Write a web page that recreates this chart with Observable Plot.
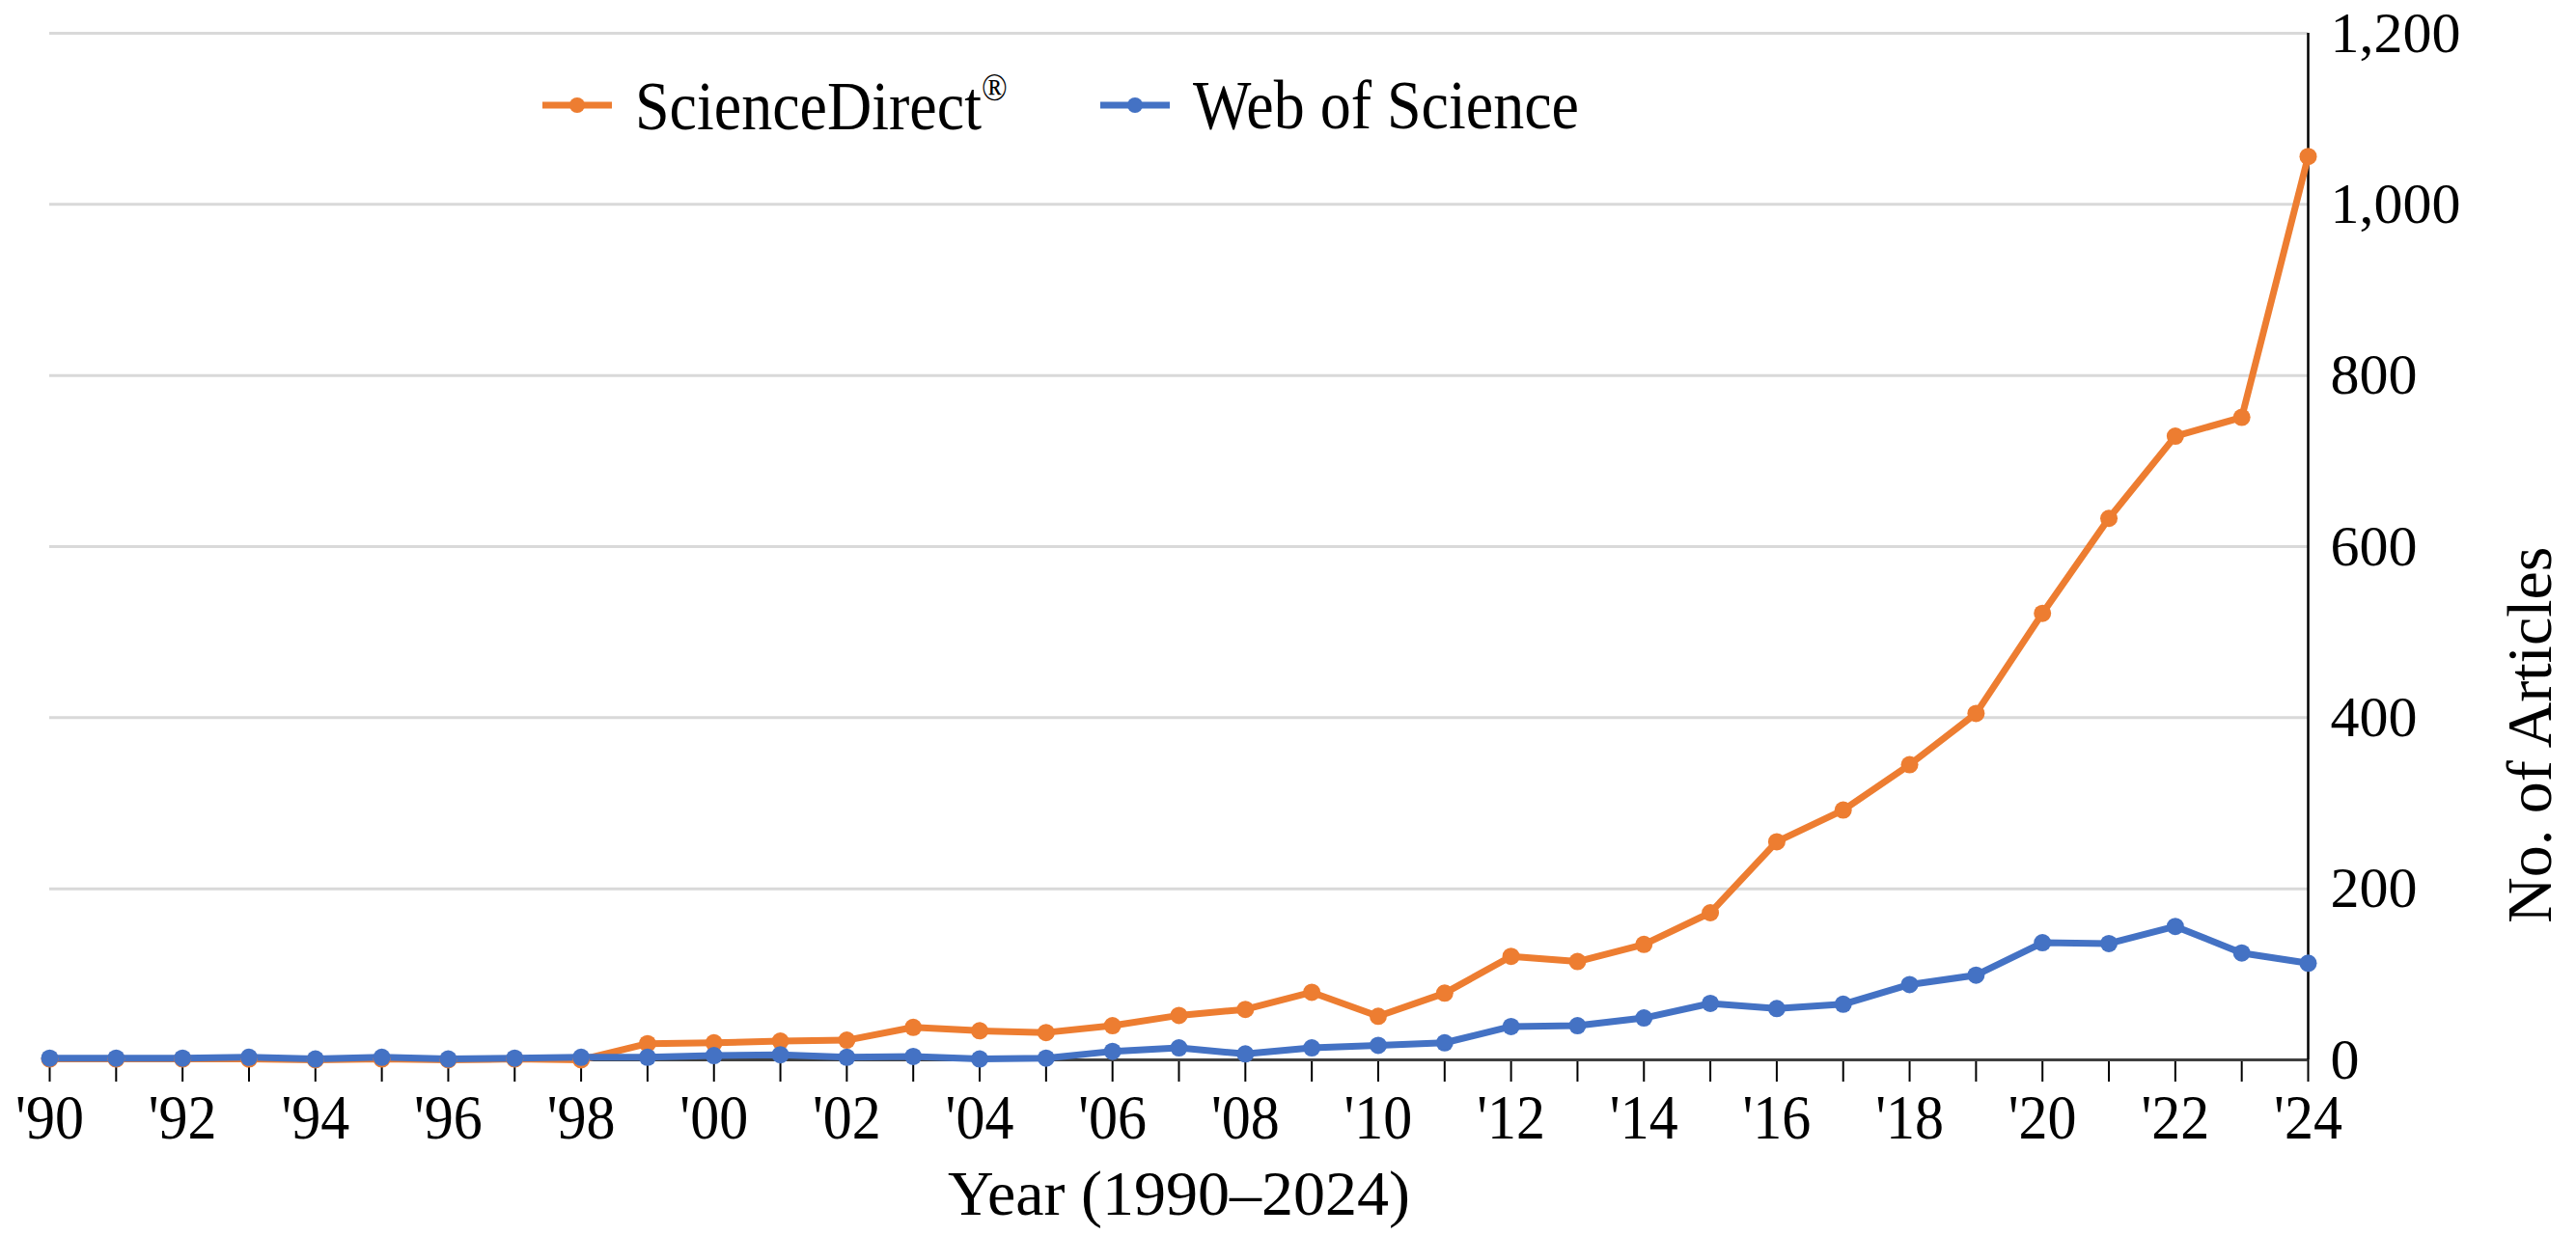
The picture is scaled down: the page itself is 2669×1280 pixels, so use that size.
<!DOCTYPE html>
<html>
<head>
<meta charset="utf-8">
<script src="https://cdn.jsdelivr.net/npm/d3@7"></script>
<script src="https://cdn.jsdelivr.net/npm/@observablehq/plot@0.6"></script>
<style>
  body { margin: 0; background: #fff; }
  #wrap { position: relative; width: 2669px; height: 1280px; font-family: "Liberation Serif", "Times New Roman", serif; }
  .legend-item { position: absolute; top: 79px; height: 60px; display: flex; align-items: center; font-size: 64px; line-height: 1; color: #000; white-space: nowrap; }
  .legend-item svg { margin-right: 24px; }
  .legend-item span { display: inline-block; transform: scaleY(1.12); }
  .legend-item sup { font-size: 0.55em; vertical-align: 0.75em; }
</style>
</head>
<body>
<div id="wrap">
  <div id="chart"></div>
  <div id="legend"></div>
</div>
<script>
const years = [1990,1991,1992,1993,1994,1995,1996,1997,1998,1999,2000,2001,2002,2003,2004,2005,2006,2007,2008,2009,2010,2011,2012,2013,2014,2015,2016,2017,2018,2019,2020,2021,2022,2023,2024];
const scienceDirect = [1,1,1,1,0,1,0,1,0,19,20,22,23,38,34,32,40,52,59,79,51,78,121,115,135,172,255,292,345,405,522,633,729,751,1056];
const webOfScience = [2,2,2,3,1,3,1,2,3,3,5,6,3,4,1,2,10,14,7,14,17,20,39,40,49,66,60,65,88,99,137,136,156,125,113];
const seriesNames = ["ScienceDirect®", "Web of Science"];
const seriesColors = ["#ED7D31", "#4472C4"];
const yTicks = [0,200,400,600,800,1000,1200];
const xLabelYears = [1990,1992,1994,1996,1998,2000,2002,2004,2006,2008,2010,2012,2014,2016,2018,2020,2022,2024];
const xTitle = "Year (1990–2024)";
const yTitle = "No. of Articles";

const data = [];
years.forEach((yr, i) => data.push({year: yr, value: scienceDirect[i], series: seriesNames[0]}));
years.forEach((yr, i) => data.push({year: yr, value: webOfScience[i], series: seriesNames[1]}));

const chart = Plot.plot({
  width: 2669,
  height: 1280,
  marginLeft: 51,
  marginRight: 278,
  marginTop: 34,
  marginBottom: 182,
  style: {fontFamily: "Liberation Serif, Times New Roman, serif", fontSize: "60px", color: "#000", background: "#fff"},
  x: {domain: [1990, 2024]},
  y: {domain: [0, 1200]},
  color: {domain: seriesNames, range: seriesColors},
  marks: [
    Plot.gridY(yTicks.filter(d => d > 0), {stroke: "#d9d9d9", strokeOpacity: 1, strokeWidth: 3}),
    Plot.axisX(years, {tickSize: 23, tickPadding: 14, stroke: "#000", strokeWidth: 2, fontSize: 60,
      tickFormat: d => xLabelYears.includes(d) ? "'" + String(d).slice(2) : "", label: null}),
    Plot.axisY(yTicks, {anchor: "right", tickSize: 0, tickPadding: 23, fontSize: 60,
      tickFormat: d3.format(","), label: null}),
    Plot.ruleY([0], {stroke: "#404040", strokeWidth: 3}),
    Plot.ruleX([2024], {stroke: "#000", strokeWidth: 2.5}),
    Plot.line(data, {x: "year", y: "value", z: "series", stroke: "series", strokeWidth: 7, strokeLinejoin: "round"}),
    Plot.dot(data, {x: "year", y: "value", fill: "series", r: 9}),
    Plot.text([xTitle], {text: d => d, frameAnchor: "bottom", dy: 160, fontSize: 66}),
    Plot.text([yTitle], {text: d => d, frameAnchor: "right", dx: 230, rotate: -90, fontSize: 66})
  ]
});
document.getElementById("chart").appendChild(chart);

// Reference typeface is slightly taller for its width: stretch x tick labels about their own centre
chart.querySelectorAll('g[aria-label="x-axis tick label"] text').forEach(t => {
  if (!t.textContent) return;
  const b = t.getBBox();
  const cy = b.y + b.height / 2;
  const s = 1.1;
  const tr = t.getAttribute("transform") || "";
  t.setAttribute("transform", `${tr} translate(0,${cy}) scale(1,${s}) translate(0,${-cy})`.trim());
});

// Legend (line + dot swatches)
const legend = document.getElementById("legend");
const legendLefts = [562, 1140];
seriesNames.forEach((name, i) => {
  const item = document.createElement("div");
  item.className = "legend-item";
  item.style.left = legendLefts[i] + "px";
  const svg = `<svg width="72" height="30"><line x1="0" y1="15" x2="72" y2="15" stroke="${seriesColors[i]}" stroke-width="7"/><circle cx="36" cy="15" r="8" fill="${seriesColors[i]}"/></svg>`;
  const label = name.replace("®", "<sup>®</sup>");
  item.innerHTML = svg + "<span>" + label + "</span>";
  legend.appendChild(item);
});
</script>
</body>
</html>
